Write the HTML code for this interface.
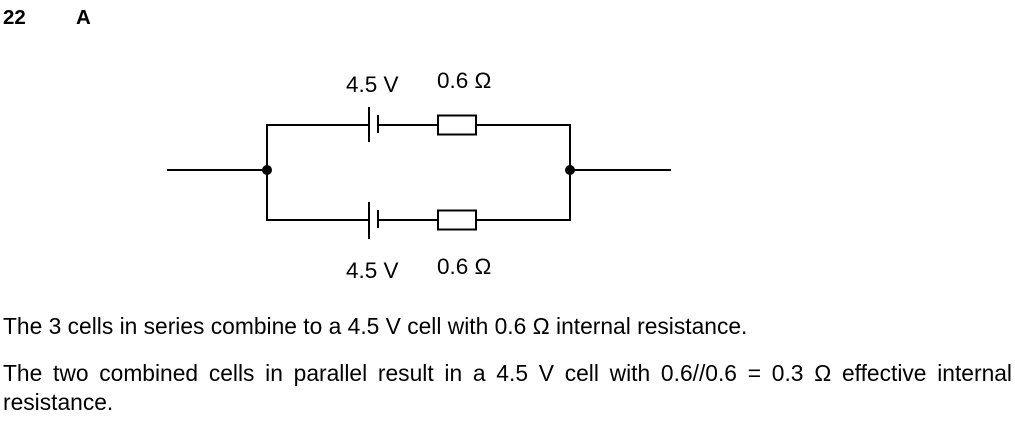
<!DOCTYPE html>
<html><head><meta charset="utf-8"><style>
body{margin:0;width:1015px;height:434px;background:#fff;position:relative;overflow:hidden;font-family:"Liberation Sans",Arial,sans-serif;color:#000}
.t{position:absolute;font-size:22.8px;line-height:26px;white-space:nowrap}
.j{position:absolute;left:3px;width:1009px;font-size:22.8px;text-align:justify;text-align-last:justify;line-height:26px;white-space:nowrap}
</style></head><body>
<div class="t" style="left:3px;top:5px;font-weight:bold;font-size:20.5px">22</div>
<div class="t" style="left:76px;top:5px;font-weight:bold;font-size:20.5px">A</div>
<svg width="1015" height="300" style="position:absolute;left:0;top:0" stroke="#000" stroke-width="2" fill="none">
<path d="M167 170H267M570 170H671"/>
<path d="M369 125H267V220H369M378 125H438M476 125H570V220H476M378 220H438"/>
<rect x="438" y="115.5" width="38" height="19"/>
<rect x="438" y="210.5" width="38" height="19"/>
<path d="M369 107V142M378 115V133M369 202V239M378 210V228"/>
<circle cx="267" cy="170" r="5" fill="#000" stroke="none"/>
<circle cx="570" cy="170" r="5" fill="#000" stroke="none"/>
<g stroke="none" fill="#000" font-family="Liberation Sans, Arial, sans-serif" font-size="22.5">
<text x="346" y="92">4.5 V</text><text x="437" y="88">0.6 Ω</text>
<text x="346" y="278">4.5 V</text><text x="437" y="274">0.6 Ω</text>
</g></svg>
<div class="t" style="left:3px;top:313px">The 3 cells in series combine to a 4.5 V cell with 0.6 Ω internal resistance.</div>
<div class="j" style="top:360px">The two combined cells in parallel result in a 4.5 V cell with 0.6//0.6 = 0.3 Ω effective internal</div>
<div class="t" style="left:3px;top:389px">resistance.</div>
</body></html>
